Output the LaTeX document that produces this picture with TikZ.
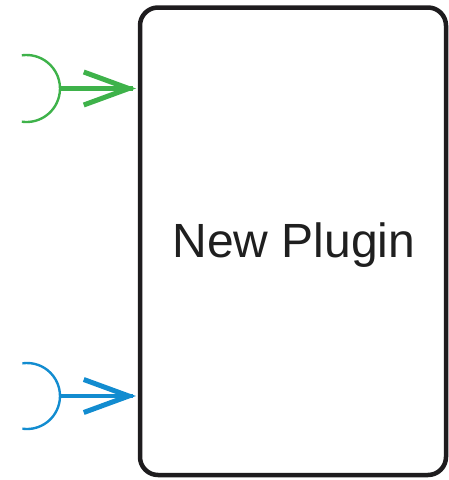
\documentclass[tikz,border=0pt]{standalone}
\usepackage{fontspec}
\setmainfont{Liberation Sans}
\definecolor{plugGreen}{RGB}{62,178,74}
\definecolor{plugBlue}{RGB}{18,140,208}
\definecolor{boxLine}{RGB}{30,28,30}
\tikzset{
  plugbox/.style={draw=boxLine, line width=4.5pt, rounded corners=18pt, fill=white,
    minimum width=306pt, minimum height=467.5pt, inner sep=0pt},
  socket/.style={line width=2.4pt},
  shaft/.style={line width=4.2pt},
  barb/.style={line width=5pt, miter limit=10},
}
\begin{document}
\begin{tikzpicture}[x=1pt,y=-1pt]
\useasboundingbox (0,0) rectangle (449,480);
\node[plugbox] (box) at (293,241.25) {};
\node[anchor=base, font=\fontsize{48}{48}\selectfont, text=black!88] (lbl) at (294,257) {New Plugin};
% green socket
\coordinate (gs) at (60,88.5);
\coordinate (gt) at (gs -| box.west);
\draw[socket, draw=plugGreen] (26.5,88.5) ++(98:33.5) arc[start angle=98, end angle=-98, radius=33.5];
\draw[shaft, draw=plugGreen] (gs) -- ([xshift=-5pt]gt);
\draw[barb, draw=plugGreen] ([shift={(-54,-16.5)}]gt) -- ([shift={(-9,0)}]gt) -- ([shift={(-54,16.5)}]gt);
% blue socket
\coordinate (bs) at (60,396);
\coordinate (bt) at (bs -| box.west);
\draw[socket, draw=plugBlue] (27,396) ++(98:33) arc[start angle=98, end angle=-98, radius=33];
\draw[shaft, draw=plugBlue] (bs) -- ([xshift=-5pt]bt);
\draw[barb, draw=plugBlue] ([shift={(-54,-16.5)}]bt) -- ([shift={(-9,0)}]bt) -- ([shift={(-54,16.5)}]bt);
\end{tikzpicture}
\end{document}
